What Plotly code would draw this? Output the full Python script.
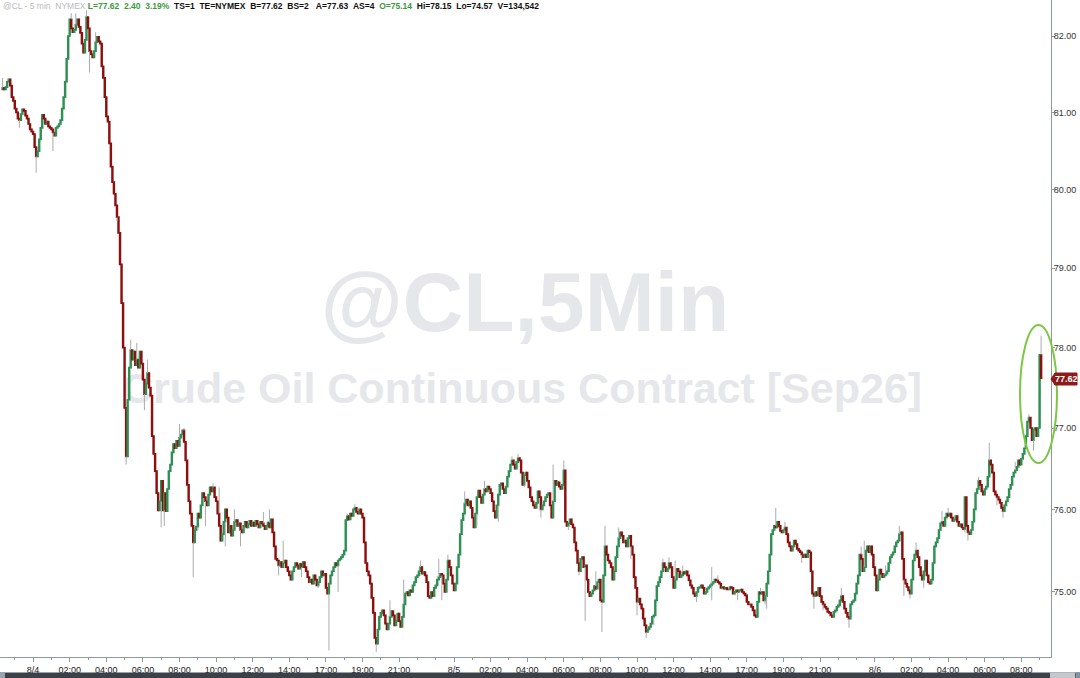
import numpy as np
import pandas as pd
import plotly.graph_objects as go

# ---------------- data ----------------
session_spans = [
    ("2026-08-03 22:20", "2026-08-04 15:55"),
    ("2026-08-04 17:00", "2026-08-05 15:55"),
    ("2026-08-05 17:00", "2026-08-06 09:05"),
]
first_open = 81.30

# 5-minute closes, one row per hour
close_aug3_night = [
    81.32, 81.30, 81.33, 81.40, 81.43, 81.35, 81.20, 81.15,
    81.05, 81.00, 80.92, 80.90, 80.98, 81.04, 81.02, 80.96, 80.92, 80.85, 80.78, 80.75,
]
close_aug4_day = [
    80.72, 80.55, 80.43, 80.50, 80.65, 80.80, 80.97, 80.92, 80.85, 80.88, 80.82, 80.80,
    80.78, 80.74, 80.70, 80.80, 80.82, 80.85, 80.90, 81.05, 81.20, 81.40, 81.70, 82.00,
    82.22, 82.10, 82.05, 82.08, 82.15, 82.22, 82.12, 82.04, 81.90, 81.78, 81.95, 82.25,
    82.10, 81.80, 81.76, 81.72, 81.80, 81.92, 81.99, 81.93, 81.90, 81.60, 81.45, 81.20,
    80.95, 80.88, 80.60, 80.30, 80.10, 79.95, 79.80, 79.65, 79.45, 79.05, 78.56, 78.00,
    77.25, 76.65, 77.35, 77.75, 77.97, 77.85, 77.95, 77.78, 77.85, 77.75, 77.95, 77.80,
    77.60, 77.42, 77.55, 77.68, 77.50, 77.40, 76.90, 76.68, 76.47, 76.20, 75.99, 76.10,
    76.35, 75.99, 76.20, 75.98, 76.25, 76.47, 76.55, 76.70, 76.80, 76.75, 76.84, 76.78,
    76.88, 76.92, 76.97, 76.83, 76.60, 76.30, 76.10, 75.95, 75.80, 75.60, 75.75, 75.79,
    75.95, 75.90, 76.05, 76.20, 76.15, 76.10, 76.05, 76.18, 76.27, 76.22, 76.27, 76.15,
    76.10, 75.95, 75.80, 75.62, 75.70, 75.85, 76.00, 75.90, 75.72, 75.80, 75.68, 75.75,
    75.85, 75.87, 75.80, 75.83, 75.75, 75.72, 75.80, 75.85, 75.78, 75.82, 75.86, 75.80,
    75.84, 75.80, 75.86, 75.82, 75.78, 75.85, 75.83, 75.80, 75.76, 75.80, 75.84, 75.78,
    75.88, 75.72, 75.55, 75.40, 75.38, 75.32, 75.36, 75.30, 75.35, 75.38, 75.30, 75.25,
    75.20, 75.15, 75.25, 75.30, 75.35, 75.32, 75.28, 75.34, 75.30, 75.36, 75.30, 75.25,
    75.18, 75.12, 75.15, 75.10, 75.20, 75.15, 75.08, 75.12, 75.18, 75.25, 75.20, 75.22,
]
close_aug5_session = [
    75.05, 74.98, 75.10, 75.20, 75.25, 75.30, 75.35, 75.32, 75.38, 75.40, 75.42, 75.45,
    75.50, 75.87, 75.92, 75.88, 75.95, 75.92, 76.00, 76.02, 75.97, 75.95, 76.00, 75.95,
    75.90, 75.60, 75.35, 75.25, 75.20, 75.10, 74.93, 74.75, 74.45, 74.38, 74.55, 74.70,
    74.75, 74.78, 74.72, 74.62, 74.55, 74.62, 74.70, 74.77, 74.72, 74.60, 74.65, 74.74,
    74.65, 74.58, 74.70, 74.85, 74.98, 75.00, 74.96, 75.02, 75.00, 75.08, 75.12, 75.18,
    75.20, 75.25, 75.30, 75.22, 75.24, 75.20, 75.12, 74.95, 74.93, 75.00, 74.95, 75.05,
    75.08, 75.15, 75.18, 75.22, 75.20, 75.10, 75.00, 75.15, 75.38, 75.30, 75.20, 75.10,
    75.02, 75.10, 75.30, 75.45, 75.70, 75.87, 75.95, 76.07, 76.12, 76.05, 76.10, 76.02,
    75.90, 75.78, 75.95, 76.15, 76.23, 76.15, 76.08, 76.18, 76.25, 76.22, 76.28, 76.25,
    76.20, 76.10, 75.98, 75.90, 76.05, 76.18, 76.30, 76.32, 76.25, 76.20, 76.28, 76.40,
    76.47, 76.55, 76.60, 76.55, 76.50, 76.58, 76.63, 76.60, 76.45, 76.30, 76.42, 76.45,
    76.35, 76.27, 76.15, 76.10, 76.05, 76.02, 76.08, 76.22, 76.15, 76.00, 76.05, 76.10,
    76.15, 76.18, 76.20, 76.05, 75.90, 76.10, 76.35, 76.30, 76.33, 76.28, 76.25, 76.30,
    76.48, 75.85, 75.80, 75.83, 75.88, 75.82, 75.78, 75.60, 75.50, 75.35, 75.25, 75.40,
    75.42, 75.30, 75.32, 75.15, 75.00, 74.95, 74.98, 75.02, 75.07, 75.04, 75.12, 75.15,
    74.90, 74.88, 75.20, 75.55, 75.45, 75.38, 75.35, 75.30, 75.15, 75.25, 75.42, 75.55,
    75.65, 75.72, 75.68, 75.60, 75.62, 75.55, 75.65, 75.68, 75.55, 75.45, 75.18, 75.05,
    74.88, 74.92, 74.85, 74.80, 74.68, 74.60, 74.52, 74.55, 74.58, 74.62, 74.70, 74.72,
    74.90, 75.07, 75.12, 75.18, 75.25, 75.35, 75.30, 75.25, 75.28, 75.35, 75.30, 75.18,
    75.05, 75.15, 75.28, 75.25, 75.18, 75.20, 75.24, 75.22, 75.25, 75.20, 75.14, 75.08,
    75.05, 74.98, 74.95, 75.00, 75.05, 75.06, 75.08, 75.05, 74.98, 75.00, 75.04, 75.06,
    75.08, 75.10, 75.12, 75.15, 75.14, 75.12, 75.10, 75.05, 75.06, 75.04, 75.05, 75.03,
    75.03, 75.06, 75.05, 74.98, 75.00, 75.02, 75.00, 75.02, 75.03, 75.00, 74.98, 74.96,
]
close_aug6_session = [
    74.88, 74.85, 74.85, 74.82, 74.78, 74.72, 74.70, 74.88, 75.00, 74.98, 75.00, 74.90,
    74.95, 75.10, 75.25, 75.45, 75.70, 75.75, 75.80, 75.78, 75.85, 75.80, 75.74, 75.72,
    75.75, 75.78, 75.70, 75.60, 75.55, 75.50, 75.55, 75.62, 75.58, 75.52, 75.50, 75.48,
    75.45, 75.42, 75.45, 75.42, 75.50, 75.48, 75.25, 74.98, 74.95, 75.00, 74.96, 75.05,
    74.95, 74.88, 74.85, 74.82, 74.80, 74.76, 74.75, 74.72, 74.70, 74.76, 74.78, 74.82,
    74.84, 74.90, 74.95, 74.88, 74.80, 74.75, 74.70, 74.68, 74.85, 74.88, 74.90, 74.98,
    75.10, 75.20, 75.45, 75.40, 75.25, 75.30, 75.50, 75.55, 75.48, 75.55, 75.45, 75.30,
    75.20, 75.02, 75.15, 75.27, 75.22, 75.18, 75.20, 75.22, 75.25, 75.35, 75.42, 75.45,
    75.48, 75.55, 75.60, 75.62, 75.70, 75.72, 75.40, 75.15, 75.10, 75.06, 75.02, 74.98,
    75.15, 75.38, 75.45, 75.50, 75.42, 75.30, 75.20, 75.15, 75.25, 75.38, 75.20, 75.12,
    75.10, 75.15, 75.35, 75.55, 75.60, 75.65, 75.75, 75.83, 75.85, 75.80, 75.90, 75.95,
    75.92, 75.95, 75.90, 75.86, 75.88, 75.92, 75.85, 75.80, 75.82, 75.78, 75.76, 76.15,
    75.80, 75.72, 75.70, 75.75, 75.85, 76.00, 76.20, 76.25, 76.35, 76.30, 76.22, 76.18,
    76.25, 76.28, 76.40, 76.60, 76.55, 76.45, 76.22, 76.18, 76.15, 76.12, 76.08, 76.02,
    75.98, 76.05, 76.10, 76.15, 76.25, 76.30, 76.40, 76.45, 76.48, 76.52, 76.60, 76.55,
    76.62, 76.68, 76.75, 76.90, 77.08, 77.13, 77.00, 76.85, 76.98, 77.00, 76.90, 77.00,
    77.91, 77.62,
]

# visible wick extremes: (bar time, low, high)
wicks = [
    ("2026-08-03 22:20", None, 81.45), ("2026-08-03 22:40", None, 81.45),
    ("2026-08-03 23:15", 80.80, None), ("2026-08-04 00:10", 80.22, None),
    ("2026-08-04 01:05", 80.50, None), ("2026-08-04 02:05", None, 82.30),
    ("2026-08-04 02:20", None, 82.30), ("2026-08-04 02:55", None, 82.34),
    ("2026-08-04 03:05", 81.52, None), ("2026-08-04 03:25", None, 82.05),
    ("2026-08-04 04:15", 80.50, None), ("2026-08-04 04:35", 79.60, None),
    ("2026-08-04 05:05", 76.55, None), ("2026-08-04 05:20", None, 78.10),
    ("2026-08-04 05:40", None, 78.06), ("2026-08-04 06:05", 77.22, None),
    ("2026-08-04 06:15", None, 77.85), ("2026-08-04 07:00", 75.78, None),
    ("2026-08-04 07:10", 75.80, None), ("2026-08-04 08:00", None, 77.05),
    ("2026-08-04 08:15", None, 77.00), ("2026-08-04 08:45", 75.18, None),
    ("2026-08-04 09:00", 75.75, None), ("2026-08-04 09:25", 75.80, None),
    ("2026-08-04 09:50", None, 76.32), ("2026-08-04 10:10", None, 76.27),
    ("2026-08-04 10:30", 75.55, None), ("2026-08-04 11:00", None, 76.00),
    ("2026-08-04 11:20", 75.55, None), ("2026-08-04 12:35", None, 75.97),
    ("2026-08-04 12:55", None, 76.00), ("2026-08-04 13:25", 75.20, None),
    ("2026-08-04 13:40", None, 75.62), ("2026-08-04 14:40", 75.18, None),
    ("2026-08-04 15:35", 75.05, None), ("2026-08-04 17:10", 74.30, None),
    ("2026-08-04 17:40", 75.00, None), ("2026-08-04 18:10", None, 75.95),
    ("2026-08-04 18:35", None, 76.07), ("2026-08-04 19:45", 74.28, None),
    ("2026-08-04 20:30", None, 74.90), ("2026-08-04 21:15", None, 75.15),
    ("2026-08-04 22:10", None, 75.38), ("2026-08-04 23:10", None, 75.40),
    ("2026-08-04 23:20", 74.90, None), ("2026-08-04 23:40", None, 75.45),
    ("2026-08-05 00:35", None, 76.22), ("2026-08-05 01:15", 75.80, None),
    ("2026-08-05 01:40", None, 76.35), ("2026-08-05 02:25", 75.85, None),
    ("2026-08-05 03:10", None, 76.65), ("2026-08-05 03:30", None, 76.68),
    ("2026-08-05 03:50", 76.27, None), ("2026-08-05 04:45", 75.90, None),
    ("2026-08-05 05:25", None, 76.55), ("2026-08-05 06:00", None, 76.60),
    ("2026-08-05 06:15", 75.75, None), ("2026-08-05 06:50", 75.20, None),
    ("2026-08-05 07:10", 74.65, None), ("2026-08-05 07:45", None, 75.25),
    ("2026-08-05 08:05", 74.52, None), ("2026-08-05 08:15", None, 75.80),
    ("2026-08-05 09:00", None, 75.78), ("2026-08-05 09:40", 75.40, None),
    ("2026-08-05 10:00", 74.72, None), ("2026-08-05 10:30", 74.45, None),
    ("2026-08-05 10:55", 74.60, None), ("2026-08-05 11:25", None, 75.40),
    ("2026-08-05 11:45", None, 75.42), ("2026-08-05 12:05", None, 75.38),
    ("2026-08-05 12:30", None, 75.32), ("2026-08-05 13:15", 74.88, None),
    ("2026-08-05 14:05", 74.90, 75.30), ("2026-08-05 14:25", None, 75.20),
    ("2026-08-05 15:30", 74.90, None), ("2026-08-05 17:45", None, 75.05),
    ("2026-08-05 18:00", 74.85, None), ("2026-08-05 18:05", 74.80, None),
    ("2026-08-05 18:35", None, 76.02), ("2026-08-05 19:05", None, 75.85),
    ("2026-08-05 20:00", 75.35, None), ("2026-08-05 20:40", 74.80, None),
    ("2026-08-05 21:10", 74.78, None), ("2026-08-05 22:10", None, 75.05),
    ("2026-08-05 22:35", 74.57, None), ("2026-08-05 23:15", None, 75.55),
    ("2026-08-05 23:25", None, 75.62), ("2026-08-06 00:35", None, 75.32),
    ("2026-08-06 01:20", None, 75.80), ("2026-08-06 01:35", 74.95, None),
    ("2026-08-06 01:55", 74.92, None), ("2026-08-06 02:15", None, 75.60),
    ("2026-08-06 02:40", 75.05, None), ("2026-08-06 03:40", None, 75.98),
    ("2026-08-06 04:00", None, 76.02), ("2026-08-06 04:55", 75.72, None),
    ("2026-08-06 05:05", 75.62, None), ("2026-08-06 05:40", None, 76.40),
    ("2026-08-06 06:15", None, 76.82), ("2026-08-06 06:40", 76.05, None),
    ("2026-08-06 07:00", 75.90, None), ("2026-08-06 07:40", None, 76.58),
    ("2026-08-06 08:05", 76.60, None), ("2026-08-06 08:25", None, 77.17),
    ("2026-08-06 08:40", 76.72, None), ("2026-08-06 09:05", None, 78.15),
]

tick_times = [
    "2026-08-04 00:00", "2026-08-04 02:00", "2026-08-04 04:00", "2026-08-04 06:00",
    "2026-08-04 08:00", "2026-08-04 10:00", "2026-08-04 12:00", "2026-08-04 14:00",
    "2026-08-04 17:00", "2026-08-04 19:00", "2026-08-04 21:00", "2026-08-05 00:00",
    "2026-08-05 02:00", "2026-08-05 04:00", "2026-08-05 06:00", "2026-08-05 08:00",
    "2026-08-05 10:00", "2026-08-05 12:00", "2026-08-05 14:00", "2026-08-05 17:00",
    "2026-08-05 19:00", "2026-08-05 21:00", "2026-08-06 00:00", "2026-08-06 02:00",
    "2026-08-06 04:00", "2026-08-06 06:00", "2026-08-06 08:00",
]
tick_text = [
    "8/4", "02:00", "04:00", "06:00", "08:00", "10:00", "12:00", "14:00",
    "17:00", "19:00", "21:00", "8/5", "02:00", "04:00", "06:00", "08:00",
    "10:00", "12:00", "14:00", "17:00", "19:00", "21:00", "8/6", "02:00",
    "04:00", "06:00", "08:00",
]
price_ticks = [75, 76, 77, 78, 79, 80, 81, 82]
last_price = 77.62

# ---------------- build series ----------------
times = pd.DatetimeIndex(np.concatenate(
    [pd.date_range(s, e, freq="5min").values for s, e in session_spans]))
close = np.array(close_aug3_night + close_aug4_day + close_aug5_session + close_aug6_session)
assert len(times) == len(close), (len(times), len(close))
opens = np.r_[first_open, close[:-1]]
idx = np.arange(len(close))
body_hi = np.maximum(opens, close)
body_lo = np.minimum(opens, close)
pos = {t: i for i, t in enumerate(times)}

wx, wy = [], []
for t, lo, hi in wicks:
    i = pos[pd.Timestamp(t)]
    if hi is not None and hi > body_hi[i]:
        wx += [i, i, None]
        wy += [body_hi[i], hi, None]
    if lo is not None and lo < body_lo[i]:
        wx += [i, i, None]
        wy += [lo, body_lo[i], None]

tickvals = [pos[pd.Timestamp(t)] for t in tick_times]
minor_vals = [i for i, t in enumerate(times) if t.minute == 0]

# ---------------- styling / layout ----------------
W, H = 1080, 678
ML, MR, MT, MB = 0, 29, 0, 21
PW, PH = W - ML - MR, H - MT - MB
BAR_PX = 1.525
X0_PX = 33.1          # pixel of the 8/4 00:00 bar
i0 = tickvals[0]
x_range = [i0 - X0_PX / BAR_PX, i0 + (PW - X0_PX) / BAR_PX]
y_range = [1.870530, 1.916323]

GREEN = "#2f8f55"
RED = "#8c1010"
WICK = "#ababab"
AXIS = "#8d9a9a"
FONT = "Liberation Sans"

fig = go.Figure()

# watermark (base subplot, under the data)
fig.add_trace(go.Scatter(
    x=[525 / PW], y=[1 - 310 / PH], mode="text", text=["@CL,5Min"],
    textfont=dict(family=FONT, size=84, color="#e6e7ea", weight="bold"),
    textposition="middle center", hoverinfo="skip", showlegend=False))
fig.add_trace(go.Scatter(
    x=[522 / PW], y=[1 - 392 / PH], mode="text",
    text=["Crude Oil Continuous Contract [Sep26]"],
    textfont=dict(family=FONT, size=43, color="#e6e7ea", weight="bold"),
    textposition="middle center", hoverinfo="skip", showlegend=False))

fig.add_trace(go.Candlestick(
    x=idx, open=opens, high=body_hi, low=body_lo, close=close,
    increasing=dict(line=dict(color=GREEN, width=1.7), fillcolor=GREEN),
    decreasing=dict(line=dict(color=RED, width=1.7), fillcolor=RED),
    whiskerwidth=0, xaxis="x2", yaxis="y2", showlegend=False, hoverinfo="skip"))
fig.add_trace(go.Scatter(
    x=wx, y=wy, mode="lines", line=dict(color=WICK, width=1),
    xaxis="x2", yaxis="y2", showlegend=False, hoverinfo="skip"))

fig.update_layout(
    width=W, height=H, margin=dict(l=ML, r=MR, t=MT, b=MB),
    paper_bgcolor="white", plot_bgcolor="white", showlegend=False,
    xaxis=dict(range=[0, 1], visible=False, fixedrange=True),
    yaxis=dict(range=[0, 1], visible=False, fixedrange=True),
    xaxis2=dict(
        overlaying="x", anchor="y2", side="bottom", range=x_range,
        tickmode="array", tickvals=tickvals, ticktext=tick_text,
        ticks="outside", ticklen=4, tickwidth=1, tickcolor=AXIS,
        showline=True, linecolor=AXIS, linewidth=1,
        showgrid=False, zeroline=False,
        tickfont=dict(family=FONT, size=9, color="#222222"),
        minor=dict(tickmode="array", tickvals=minor_vals, ticks="outside",
                   ticklen=2, tickcolor=AXIS, showgrid=False),
        rangeslider=dict(visible=False)),
    yaxis2=dict(
        overlaying="y", anchor="x2", side="right", type="log", range=y_range,
        tickmode="array", tickvals=price_ticks,
        ticktext=[f"{p:.2f}" for p in price_ticks],
        ticks="outside", ticklen=3, tickcolor=AXIS, ticklabelstandoff=-3,
        showline=True, linecolor=AXIS, linewidth=1,
        showgrid=False, zeroline=False,
        tickfont=dict(family=FONT, size=9, color="#333333")),
)

def px(xp):
    return xp / PW

def py(yp):
    return 1 - yp / PH

# header line
GREY_T, GREEN_T, BLACK_T = "#b9b9b9", "#3c9a3c", "#111111"
sp = "&nbsp;"
header = (
    f"<span style='color:{GREY_T}'>@CL - 5 min{sp*2}NYMEX</span>{sp}"
    f"<b><span style='color:{GREEN_T}'>L=77.62{sp}{sp}2.40{sp}{sp}3.19%</span>{sp}{sp}"
    f"<span style='color:{BLACK_T}'>TS=1{sp*2}TE=NYMEX{sp}{sp}B=77.62{sp}{sp}BS=2{sp*3}A=77.63{sp}{sp}AS=4</span>{sp*2}"
    f"<span style='color:{GREEN_T}'>O=75.14</span>{sp}{sp}"
    f"<span style='color:{BLACK_T}'>Hi=78.15{sp}{sp}Lo=74.57{sp}{sp}V=134,542</span></b>"
)
fig.add_annotation(text=header, xref="paper", yref="paper", x=px(1), y=py(6),
                   xanchor="left", yanchor="middle", showarrow=False,
                   font=dict(family=FONT, size=8.5, color=BLACK_T))

# highlight ellipse
fig.add_shape(type="circle", xref="paper", yref="paper",
              x0=px(1020), x1=px(1057), y0=py(463), y1=py(325),
              line=dict(color="#7cc843", width=2), fillcolor="rgba(0,0,0,0)")

# last-price tag
tag_y = 379
fig.add_shape(type="path", xref="paper", yref="paper",
              path=(f"M {px(1051)} {py(tag_y)} L {px(1055)} {py(tag_y-6)} L {px(1077)} {py(tag_y-6)} "
                    f"L {px(1077)} {py(tag_y+6)} L {px(1055)} {py(tag_y+6)} Z"),
              fillcolor="#8e1a1a", line=dict(color="#8e1a1a", width=1))
fig.add_annotation(text=f"{last_price:.2f}", xref="paper", yref="paper",
                   x=px(1066), y=py(tag_y), xanchor="center", yanchor="middle",
                   showarrow=False, font=dict(family=FONT, size=9, color="white", weight="bold"))

# bottom scrollbar strip
fig.add_shape(type="rect", xref="paper", yref="paper", x0=px(0), x1=px(1080),
              y0=py(678), y1=py(672.5), fillcolor="#3c4149", line=dict(width=0), layer="above")
fig.add_shape(type="rect", xref="paper", yref="paper", x0=px(0), x1=px(5),
              y0=py(678), y1=py(672.5), fillcolor="#9aa4b1", line=dict(width=0), layer="above")
fig.add_shape(type="rect", xref="paper", yref="paper", x0=px(1050), x1=px(1075),
              y0=py(678), y1=py(672.5), fillcolor="#c5c9cd", line=dict(width=0), layer="above")
fig.add_shape(type="rect", xref="paper", yref="paper", x0=px(1075.5), x1=px(1080),
              y0=py(678), y1=py(672.5), fillcolor="#8393a5", line=dict(width=0), layer="above")

fig.write_html("out.html", config={"displayModeBar": False},
               post_script="document.body.style.margin='0';")
